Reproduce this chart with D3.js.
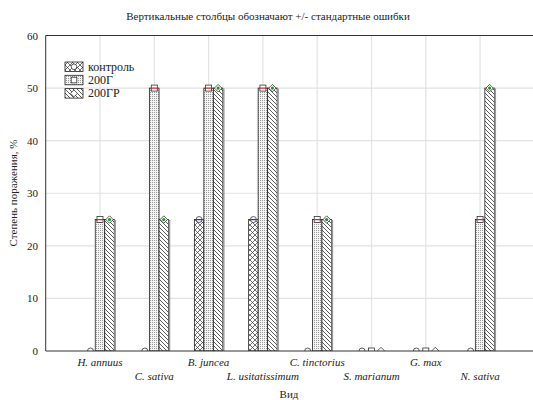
<!DOCTYPE html>
<html><head><meta charset="utf-8">
<script src="https://cdn.jsdelivr.net/npm/d3@7"></script>
<style>body{margin:0;background:#fff}svg{display:block}text{font-family:"Liberation Serif","Times New Roman",serif}</style>
</head><body>
<script>
const categories = ["H. annuus","C. sativa","B. juncea","L. usitatissimum","C. tinctorius","S. marianum","G. max","N. sativa"];
const seriesNames = ["контроль","200Г","200ГР"];
const control = [0,0,25,25,0,0,0,0];
const g200 = [25,50,50,50,25,0,0,25];
const g200r = [25,25,50,50,25,0,0,50];
const yTicks = [0,10,20,30,40,50,60];
const title = "Вертикальные столбцы обозначают +/- стандартные ошибки";
const xTitle = "Вид";
const yTitle = "Степень поражения, %";

(function(){
const W=533,H=400;
const svg=d3.select("body").append("svg").attr("width",W).attr("height",H);
const defs=svg.append("defs");
const pc=defs.append("pattern").attr("id","pcross").attr("patternUnits","userSpaceOnUse").attr("width",5).attr("height",5);
pc.append("rect").attr("width",5).attr("height",5).attr("fill","#fff");
pc.append("path").attr("d","M0,0L5,5M5,0L0,5").attr("stroke","#333").attr("stroke-width",0.7);
const pd=defs.append("pattern").attr("id","pdots").attr("patternUnits","userSpaceOnUse").attr("width",2).attr("height",2);
pd.append("rect").attr("width",2).attr("height",2).attr("fill","#f4f4f4");
pd.append("rect").attr("width",1).attr("height",1).attr("fill","#9a9a9a");
const ph=defs.append("pattern").attr("id","phatch").attr("patternUnits","userSpaceOnUse").attr("width",4).attr("height",4);
ph.append("rect").attr("width",4).attr("height",4).attr("fill","#fff");
ph.append("path").attr("d","M-1,-1L5,5M-1,3L1,5M3,-1L5,1").attr("stroke","#333").attr("stroke-width",0.8);
const fills=["url(#pcross)","url(#pdots)","url(#phatch)"];
const markerCol=["#2233dd","#e02020","#1a9a1a"];

const pL=45.7, pT=35.5, pB=351, pR=45.7+9*54.3;
const x=d3.scaleLinear().domain([0,9]).range([pL,pR]);
const y=d3.scaleLinear().domain([0,60]).range([pB,pT]);

defs.append("clipPath").attr("id","clip").append("rect").attr("x",pL).attr("y",pT-10).attr("width",pR-pL).attr("height",pB-pT+10);

const grid=svg.append("g");
grid.selectAll("line.gy").data(yTicks.filter(d=>d>0&&d<60)).enter().append("line")
 .attr("x1",pL).attr("x2",W).attr("y1",d=>y(d)).attr("y2",d=>y(d)).attr("stroke","#e2e2e2").attr("stroke-width",1.2);
grid.selectAll("line.gx").data(categories).enter().append("line")
 .attr("x1",(d,i)=>x(i+1)).attr("x2",(d,i)=>x(i+1)).attr("y1",pT).attr("y2",pB).attr("stroke","#e2e2e2").attr("stroke-width",1.2);

const bw=9.5;
const series=[control,g200,g200r];
const offs=[-1.5,-0.5,0.5];
const plot=svg.append("g").attr("clip-path","url(#clip)");
series.forEach((vals,s)=>{
  const pts=vals.map((v,i)=>({v,i})).filter(d=>d.v>0);
  plot.selectAll(null).data(pts).enter().append("rect")
   .attr("x",d=>x(d.i+1)+offs[s]*bw).attr("width",bw)
   .attr("y",d=>y(d.v)).attr("height",d=>pB-y(d.v))
   .attr("fill",fills[s]).attr("stroke","#222").attr("stroke-width",0.8);
  if(s===2){
    plot.selectAll(null).data(pts).enter().append("line")
     .attr("x1",d=>x(d.i+1)+offs[s]*bw+bw+0.9).attr("x2",d=>x(d.i+1)+offs[s]*bw+bw+0.9)
     .attr("y1",d=>y(d.v)+0.5).attr("y2",pB).attr("stroke","#999").attr("stroke-width",1.6);
  }
});
function drawMarker(g,s,cx,cy,r){
  if(s===0){
    g.append("circle").attr("cx",cx).attr("cy",cy).attr("r",r).attr("fill","#fff").attr("stroke","#333").attr("stroke-width",0.8);
  } else if(s===1){
    g.append("rect").attr("x",cx-r).attr("y",cy-r).attr("width",2*r).attr("height",2*r).attr("fill","#fff").attr("stroke","#333").attr("stroke-width",0.8);
  } else {
    g.append("path").attr("d",`M${cx},${cy-r-0.7}L${cx+r+0.7},${cy}L${cx},${cy+r+0.7}L${cx-r-0.7},${cy}Z`).attr("fill","#fff").attr("stroke","#333").attr("stroke-width",0.8);
  }
}
series.forEach((vals,s)=>{
  vals.forEach((v,i)=>{
    const cx=x(i+1)+offs[s]*bw+bw/2, cy=y(v);
    drawMarker(plot,s,cx,cy,3);
    if(v>0){
      if(s===2) plot.append("circle").attr("cx",cx).attr("cy",cy).attr("r",1.6).attr("fill",markerCol[s]);
      else plot.append("line").attr("x1",cx-3).attr("x2",cx+3).attr("y1",cy).attr("y2",cy).attr("stroke",markerCol[s]).attr("stroke-width",1.3);
    }
  });
});

svg.append("line").attr("x1",pL).attr("x2",W).attr("y1",pT).attr("y2",pT).attr("stroke","#333").attr("stroke-width",1);
svg.append("line").attr("x1",pL).attr("x2",W).attr("y1",pB).attr("y2",pB).attr("stroke","#333").attr("stroke-width",1);
svg.append("line").attr("x1",pL).attr("x2",pL).attr("y1",pT).attr("y2",pB).attr("stroke","#333").attr("stroke-width",1);

svg.selectAll("text.yt").data(yTicks).enter().append("text")
 .attr("x",38).attr("y",d=>y(d)+4).attr("text-anchor","end").attr("font-size",11).attr("fill","#222").text(d=>d);
svg.selectAll("text.xt").data(categories).enter().append("text")
 .attr("x",(d,i)=>x(i+1)).attr("y",(d,i)=>i%2===0?366:380).attr("text-anchor","middle")
 .attr("font-size",11).attr("font-style","italic").attr("fill","#222").text(d=>d);
svg.append("text").attr("x",268).attr("y",20).attr("text-anchor","middle").attr("font-size",11).attr("fill","#222").text(title);
svg.append("text").attr("x",289).attr("y",398).attr("text-anchor","middle").attr("font-size",11).attr("fill","#222").text(xTitle);
svg.append("text").attr("transform","translate(17,193) rotate(-90)").attr("text-anchor","middle").attr("font-size",11).attr("fill","#222").text(yTitle);

const lg=svg.append("g");
seriesNames.forEach((n,s)=>{
  const yy=62+s*13.3;
  lg.append("rect").attr("x",65).attr("y",yy).attr("width",18).attr("height",9.5).attr("fill",fills[s]).attr("stroke","#222").attr("stroke-width",0.8);
  drawMarker(lg,s,74,yy+4.75,2.8);
  lg.append("text").attr("x",88).attr("y",yy+8.5).attr("font-size",12).attr("fill","#222").text(n);
});
})();
</script>
</body></html>
